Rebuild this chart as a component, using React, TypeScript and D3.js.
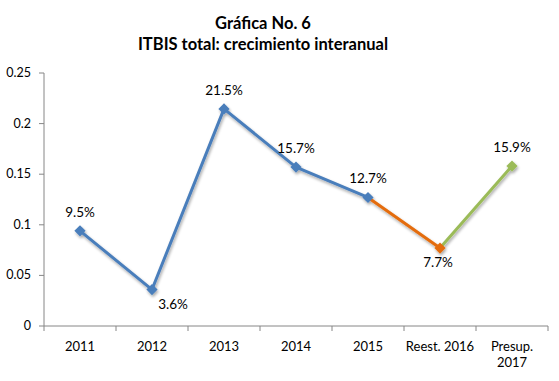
import React from "react";
import * as d3 from "d3";

const categories: string[][] = [["2011"], ["2012"], ["2013"], ["2014"], ["2015"], ["Reest. 2016"], ["Presup.", "2017"]];
const values: number[] = [0.094, 0.036, 0.2145, 0.157, 0.127, 0.077, 0.158];
const labels: string[] = ["9.5%", "3.6%", "21.5%", "15.7%", "12.7%", "7.7%", "15.9%"];
const labelBelow: boolean[] = [false, true, false, false, false, true, false];
const segmentColors: string[] = ["#4A7EBB", "#4A7EBB", "#4A7EBB", "#4A7EBB", "#E46C0A", "#9BBB59"];
const pointColors: string[] = ["#4A7EBB", "#4A7EBB", "#4A7EBB", "#4A7EBB", "#4A7EBB", "#E46C0A", "#9BBB59"];
const yTicks: number[] = [0, 0.05, 0.1, 0.15, 0.2, 0.25];
const titleLines: string[] = ["Gráfica No. 6", "ITBIS total: crecimiento interanual"];

const W = 559, H = 381;
const left = 44, right = 548, top = 73, bottom = 326;
const font = "Lato, 'Open Sans', sans-serif";

export default function App() {
  const x = d3.scaleBand<number>().domain(d3.range(categories.length)).range([left, right]);
  const y = d3.scaleLinear().domain([0, 0.25]).range([bottom, top]);
  const cx = (i: number) => (x(i) as number) + x.bandwidth() / 2;
  const axisColor = "#868686";
  const diamond = d3.symbol().type(d3.symbolDiamond2 ?? d3.symbolDiamond).size(80)() as string;
  const boundaries = d3.range(categories.length + 1).map((i) => left + i * x.bandwidth());
  const seg = d3.line<[number, number]>().x((d) => d[0]).y((d) => d[1]);

  return (
    <svg width={W} height={H} style={{ position: "absolute", left: 0, top: 0, background: "#fff" }} fontFamily={font}>
      <defs>
        <filter id="sh" x="-50%" y="-50%" width="200%" height="200%">
          <feGaussianBlur in="SourceAlpha" stdDeviation="1.5" />
          <feOffset dx="1" dy="1.5" result="b" />
          <feComponentTransfer><feFuncA type="linear" slope="0.35" /></feComponentTransfer>
          <feMerge><feMergeNode /><feMergeNode in="SourceGraphic" /></feMerge>
        </filter>
      </defs>
      <rect width={W} height={H} fill="#fff" />
      {titleLines.map((t, i) => (
        <text key={i} x={263} y={29 + i * 21} textAnchor="middle" fontSize={16.5} fontWeight="bold" fill="#000">{t}</text>
      ))}
      <line x1={left} x2={left} y1={top} y2={bottom} stroke={axisColor} strokeWidth={1} />
      {yTicks.map((t) => (
        <g key={t}>
          <line x1={left - 5} x2={left} y1={y(t)} y2={y(t)} stroke={axisColor} />
          <text x={31} y={y(t) + 4} textAnchor="end" fontSize={12.5} fill="#000">{String(t)}</text>
        </g>
      ))}
      <line x1={left} x2={right} y1={bottom} y2={bottom} stroke={axisColor} />
      {boundaries.map((b, i) => (
        <line key={i} x1={b} x2={b} y1={bottom} y2={bottom + 5} stroke={axisColor} />
      ))}
      {categories.map((c, i) => (
        <text key={i} x={cx(i)} y={351} textAnchor="middle" fontSize={13} fill="#000">
          {c.map((l, j) => (
            <tspan key={j} x={cx(i)} dy={j === 0 ? 0 : 16}>{l}</tspan>
          ))}
        </text>
      ))}
      <g filter="url(#sh)">
        {segmentColors.map((col, i) => (
          <path key={i} d={seg([[cx(i), y(values[i])], [cx(i + 1), y(values[i + 1])]]) as string}
            stroke={col} strokeWidth={3} fill="none" strokeLinecap="round" />
        ))}
        {values.map((v, i) => (
          <path key={i} d={diamond} transform={`translate(${cx(i)},${y(v)})`} fill={pointColors[i]} />
        ))}
      </g>
      {values.map((v, i) => {
        const px = cx(i) + (i === 1 ? 21 : i === 5 ? -2 : 0);
        const py = labelBelow[i] ? y(v) + 19 : y(v) - 14;
        return (
          <text key={i} x={px} y={py} textAnchor="middle" fontSize={13.5} fill="#000">{labels[i]}</text>
        );
      })}
    </svg>
  );
}
